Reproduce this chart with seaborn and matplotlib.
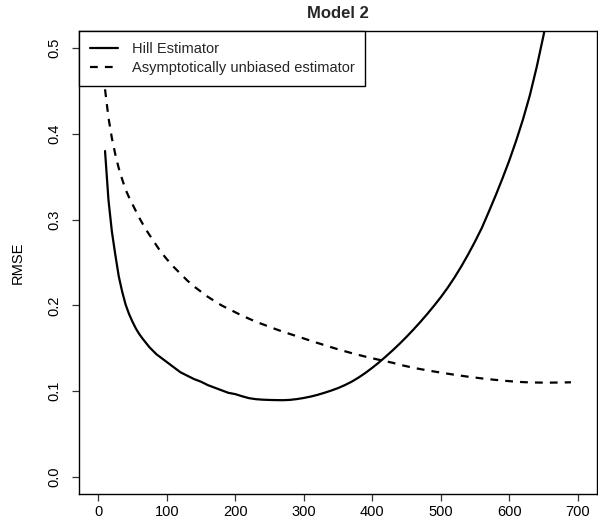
import matplotlib
matplotlib.use("Agg")
import matplotlib.pyplot as plt
import seaborn as sns
import pandas as pd

# Number of upper order statistics k (finer steps where the curves bend sharply)
k_values = list(range(10, 100, 5)) + list(range(100, 700, 10))

# RMSE of the Hill estimator
hill_rmse = [
    0.380, 0.323, 0.286, 0.259, 0.234, 0.216, 0.201, 0.190, 0.181, 0.173,
    0.1665, 0.161, 0.156, 0.151, 0.147, 0.143, 0.140, 0.137,
    0.134, 0.128, 0.122, 0.118, 0.114, 0.111, 0.107, 0.104, 0.101, 0.098,
    0.0965, 0.094, 0.0918, 0.0906, 0.0900, 0.0897, 0.0895, 0.0894, 0.0898, 0.0907,
    0.0920, 0.0936, 0.0956, 0.0980, 0.1006, 0.1035, 0.107, 0.111, 0.1158, 0.1212,
    0.1272, 0.1336, 0.1405, 0.1477, 0.1553, 0.1633, 0.1717, 0.1805, 0.1897, 0.1994,
    0.2095, 0.2205, 0.2325, 0.2455, 0.2595, 0.2745, 0.2905, 0.309, 0.328, 0.348,
    0.369, 0.392, 0.417, 0.445, 0.478, 0.515, 0.555, 0.598, 0.644, 0.694,
]

# RMSE of the asymptotically unbiased estimator
unbiased_rmse = [
    0.452, 0.419, 0.395, 0.376, 0.360, 0.347, 0.335, 0.326, 0.318, 0.310,
    0.302, 0.295, 0.288, 0.282, 0.276, 0.270, 0.264, 0.259,
    0.254, 0.245, 0.237, 0.229, 0.222, 0.216, 0.210, 0.205, 0.200, 0.196,
    0.192, 0.188, 0.1845, 0.181, 0.178, 0.175, 0.1720, 0.1692, 0.1666, 0.1640,
    0.1614, 0.1588, 0.1562, 0.1537, 0.1512, 0.1488, 0.1465, 0.1443, 0.1422, 0.1402,
    0.1383, 0.1365, 0.1347, 0.1330, 0.1308, 0.1290, 0.1272, 0.1257, 0.1243, 0.1229,
    0.1216, 0.1203, 0.1191, 0.1179, 0.1168, 0.1158, 0.1148, 0.1139, 0.1131, 0.1123,
    0.1116, 0.1110, 0.1105, 0.1102, 0.1100, 0.1099, 0.1099, 0.1100, 0.1101, 0.1103,
]

series_names = ["Hill Estimator", "Asymptotically unbiased estimator"]
x_ticks = [0, 100, 200, 300, 400, 500, 600, 700]
y_ticks = [0.0, 0.1, 0.2, 0.3, 0.4, 0.5]

hill_df = pd.DataFrame({"k": k_values, "rmse": hill_rmse})
unbiased_df = pd.DataFrame({"k": k_values, "rmse": unbiased_rmse})

sns.set_theme(style="ticks")
plt.rcParams["font.family"] = ["Liberation Sans", "DejaVu Sans"]

fig = plt.figure(figsize=(5.98, 5.28), dpi=100)
ax = fig.add_axes([79 / 598, 34 / 528, 518 / 598, 463 / 528])

sns.lineplot(data=hill_df, x="k", y="rmse", ax=ax, color="black",
             linewidth=1.6, label=series_names[0])
sns.lineplot(data=unbiased_df, x="k", y="rmse", ax=ax, color="black",
             linewidth=1.6, linestyle=(0, (3.5, 3.2)), label=series_names[1])

ax.set_xlim(-28, 728)
ax.set_ylim(-0.02, 0.52)
ax.set_xticks(x_ticks)
ax.set_xticklabels([str(v) for v in x_ticks])
ax.set_yticks(y_ticks)
ax.set_yticklabels([f"{v:.1f}" for v in y_ticks], rotation=90, va="center")

for side in ["top", "right", "left", "bottom"]:
    ax.spines[side].set_visible(True)
    ax.spines[side].set_color("black")
    ax.spines[side].set_linewidth(1.0)

ax.tick_params(axis="both", direction="out", length=5, width=0.9,
               color="#333333", labelsize=10.5, labelcolor="black")
ax.tick_params(axis="y", pad=8)
ax.tick_params(axis="x", pad=3)

ax.set_xlabel("")
ax.set_ylabel("RMSE", fontsize=10.5, color="black", va="center")
ax.yaxis.set_label_coords(-0.118, 0.5)
ax.set_title("Model 2", fontsize=12, fontweight="bold", pad=9)

leg = ax.legend(loc="upper left", borderaxespad=0, fancybox=False,
                edgecolor="black", framealpha=1, fontsize=10.5,
                handlelength=1.9, handletextpad=0.95, borderpad=0.75,
                labelspacing=0.35)
leg.get_frame().set_linewidth(1.0)
leg.set_zorder(5)

fig.savefig("out.png", dpi=100, facecolor="white")
